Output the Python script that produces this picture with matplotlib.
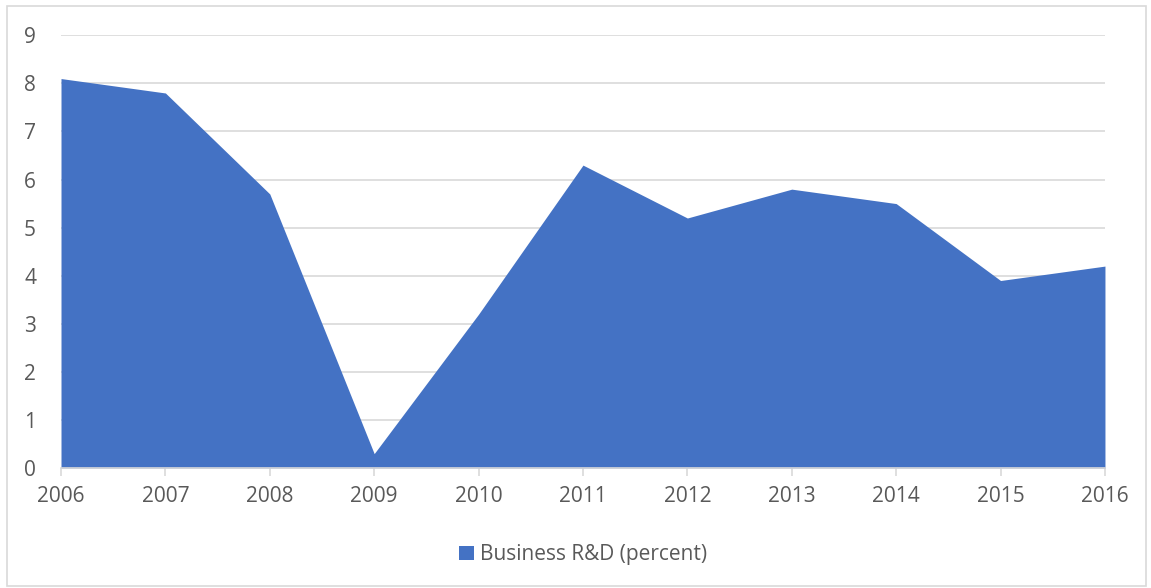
import matplotlib
matplotlib.use("Agg")
import matplotlib.pyplot as plt
from matplotlib.patches import Rectangle

# dados
anos = [2006, 2007, 2008, 2009, 2010, 2011, 2012, 2013, 2014, 2015, 2016]
business_rd = [8.1, 7.8, 5.7, 0.3, 3.2, 6.3, 5.2, 5.8, 5.5, 3.9, 4.2]
rotulo_serie = "Business R&D (percent)"

azul = "#4472C4"
cinza_texto = "#595959"
cinza_grade = "#D9D9D9"

plt.rcParams['font.family'] = ['Open Sans', 'DejaVu Sans']

fig = plt.figure(figsize=(11.51, 5.88), dpi=100)
ax = fig.add_axes([0.053, 0.204, 0.907, 0.736])
ax.set_axisbelow(True)

ax.fill_between(anos, business_rd, 0, color=azul, linewidth=0, label=rotulo_serie, zorder=2)

ax.set_xlim(anos[0], anos[-1])
ax.set_ylim(0, 9)
ax.set_yticks(range(0, 10))
ax.set_xticks(anos)
ax.grid(axis='y', color=cinza_grade, linewidth=1.2)

for lado in ['top', 'right', 'left']:
    ax.spines[lado].set_visible(False)
ax.spines['bottom'].set_color(cinza_grade)
ax.spines['bottom'].set_linewidth(1.2)
ax.spines['bottom'].set_zorder(3)

ax.tick_params(axis='y', length=0, pad=18, labelsize=15, labelcolor=cinza_texto)
ax.tick_params(axis='x', length=6, width=1.2, color=cinza_grade, pad=7,
               labelsize=15, labelcolor=cinza_texto)

leg = ax.legend(loc='center', bbox_to_anchor=(0.5, -0.2), frameon=False,
                fontsize=15, handlelength=0.7, handleheight=0.7, handletextpad=0.3)
for t in leg.get_texts():
    t.set_color(cinza_texto)

# moldura do grafico
fig.patches.append(Rectangle((0.006, 0.003), 0.99, 0.986, transform=fig.transFigure,
                             fill=False, edgecolor=cinza_grade, linewidth=1.2))

fig.savefig("out.png", dpi=100)
